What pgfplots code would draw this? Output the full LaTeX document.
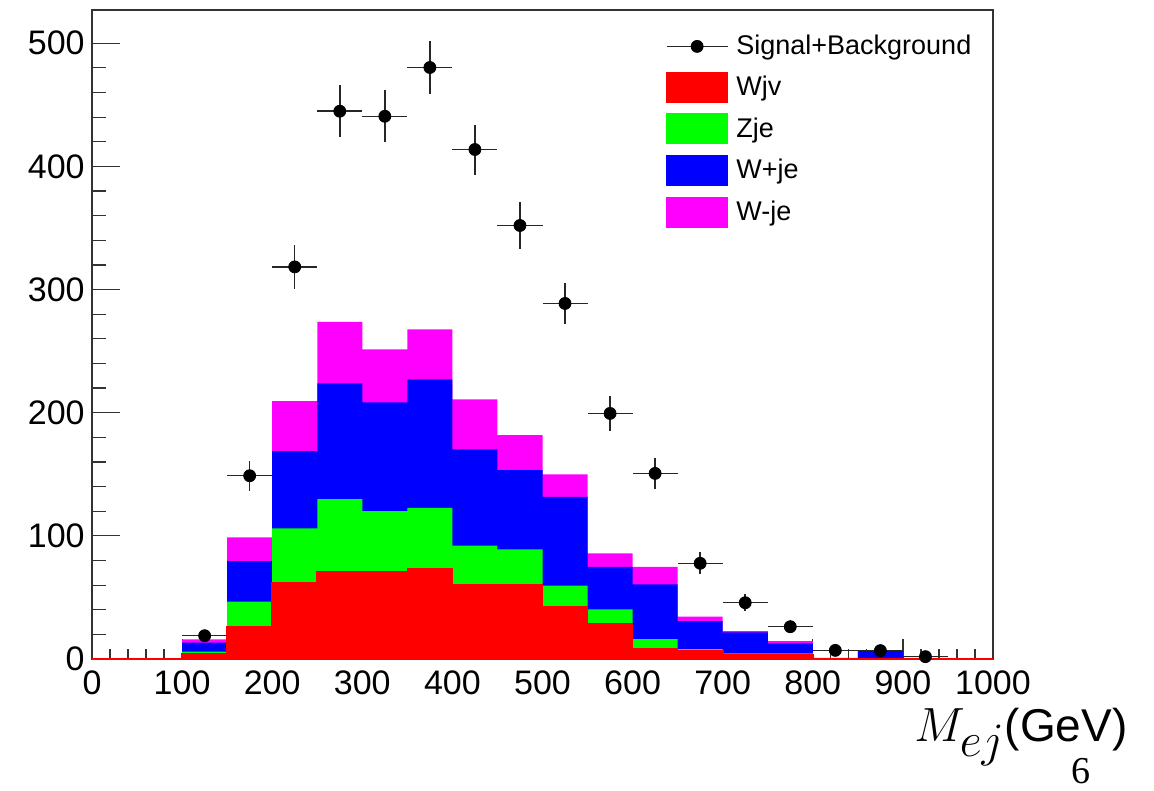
\RequirePackage{fix-cm}
\documentclass[border=0pt]{standalone}
\usepackage{pgfplots}
\usepackage{pgfplotstable}
\pgfplotsset{compat=1.18}
\usepackage{fontspec}
\setmainfont{Liberation Sans}
\newfontfamily\pagefont{Liberation Serif}

\definecolor{hred}{RGB}{255,0,0}
\definecolor{hgreen}{RGB}{0,255,0}
\definecolor{hblue}{RGB}{0,0,255}
\definecolor{hmag}{RGB}{255,0,255}

% stacked tops: r = Wjv, g = Wjv+Zje, b = +W+je, m = +W-je
\pgfplotstableread{
x r g b m
0 0 0 0 0
50 0 0 0 0
100 4 5.9 13.2 16
150 26.2 46.5 79.5 98.8
200 62.2 106 168.8 209.4
250 70.4 129.9 223.8 273.8
300 70.4 120 208.3 251.4
350 73.6 122.8 227 267.6
400 60.6 92 170.2 210.8
450 60.6 89 153.4 181.8
500 42.5 59.5 131.7 149.9
550 28.4 40.3 74.9 85.8
600 8.1 16.2 60.6 74.9
650 6.5 8.1 30.8 34.4
700 3.8 4.6 21.6 22.7
750 3.2 4.6 12.7 14.6
800 0.3 0.5 0.8 1.0
850 0.3 0.5 6.8 7.0
900 0.5 0.6 0.8 1.0
950 0 0 0 0
1000 0 0 0 0
}\stacktab

\pgfplotstableread{
x y ey
125 18.9 4.35
175 148.8 12.2
225 318.4 17.8
275 444.8 21.1
325 440.7 21.0
375 480.3 21.9
425 413.7 20.3
475 352.0 18.8
525 288.7 17.0
575 199.4 14.1
625 150.7 12.3
675 77.7 8.8
725 45.7 6.8
775 26.2 5.1
825 7.0 2.6
875 6.8 2.6
925 1.9 1.4
}\datatab

\begin{document}
\begin{tikzpicture}
\begin{axis}[
  scale only axis, width=450.5pt, height=324.5pt,
  xmin=0, xmax=1000, ymin=0, ymax=527,
  xtick={0,100,...,1000}, ytick={0,100,...,500},
  minor x tick num=4, minor y tick num=4,
  tick align=inside, xtick pos=lower, ytick pos=left,
  major tick length=14pt, minor tick length=7pt,
  xtick style={/pgfplots/major tick length=10pt, /pgfplots/minor tick length=5pt},
  axis line style={line width=0.8pt, black!80},
  every tick/.append style={line width=0.6pt, black!80},
  ticklabel style={font=\fontsize{17}{17}\selectfont},
  /pgf/number format/assume math mode=true,
  /pgf/number format/1000 sep={},
  scaled ticks=false,
  xticklabel style={inner sep=0pt, yshift=-5.5pt, anchor=north},
  yticklabel style={inner sep=0pt, xshift=-3.5pt, anchor=east},
  clip=false,
  legend cell align=left,
  legend style={at={(axis description cs:0.6365,0.9665)}, anchor=north west,
    draw=none, fill=none, inner sep=0pt, row sep=5.5pt,
    font=\fontsize{13.5}{14}\selectfont,
    nodes={inner sep=1.5pt, inner xsep=4pt}},
]
\addplot[const plot, fill=hmag, draw=none, forget plot] table[x=x,y=m]{\stacktab} \closedcycle;
\addplot[const plot, fill=hblue, draw=none, forget plot] table[x=x,y=b]{\stacktab} \closedcycle;
\addplot[const plot, fill=hgreen, draw=none, forget plot] table[x=x,y=g]{\stacktab} \closedcycle;
\addplot[const plot, fill=hred, draw=hred, line width=0.8pt, forget plot] table[x=x,y=r]{\stacktab} \closedcycle;

\addplot[only marks, mark=*, mark size=3pt, black, forget plot,
  error bars/.cd, x dir=both, x fixed=25, y dir=both, y explicit,
  error mark=none, error bar style={line width=0.75pt, black!85}]
  table[x=x, y=y, y error=ey]{\datatab};

\addlegendimage{legend image code/.code={\draw[black!85, line width=0.75pt] (0pt,0pt) -- (30.5pt,0pt); \fill[black] (15.25pt,0pt) circle (3pt);}}
\addlegendentry{Signal+Background}
\addlegendimage{legend image code/.code={\fill[hred] (0pt,-7.5pt) rectangle (30.5pt,7.5pt);}}
\addlegendentry{Wjv}
\addlegendimage{legend image code/.code={\fill[hgreen] (0pt,-7.5pt) rectangle (30.5pt,7.5pt);}}
\addlegendentry{Zje}
\addlegendimage{legend image code/.code={\fill[hblue] (0pt,-7.5pt) rectangle (30.5pt,7.5pt);}}
\addlegendentry{W+je}
\addlegendimage{legend image code/.code={\fill[hmag] (0pt,-7.5pt) rectangle (30.5pt,7.5pt);}}
\addlegendentry{W-je}

\node[anchor=base east, inner sep=0pt] at (axis description cs:1.1498,-0.1279) {\fontsize{24}{24}\selectfont$M_{\textstyle ej}$\fontsize{23}{23}\selectfont(GeV)};
\node[anchor=base, inner sep=0pt] at (axis description cs:1.0977,-0.1925) {\pagefont\fontsize{19}{19}\selectfont 6};

\coordinate (bbA) at (axis description cs:-0.10211,-0.20339);
\coordinate (bbB) at (axis description cs:1.17869,1.01541);
\end{axis}
\pgfresetboundingbox
\useasboundingbox (bbA) rectangle (bbB);
\end{tikzpicture}
\end{document}
